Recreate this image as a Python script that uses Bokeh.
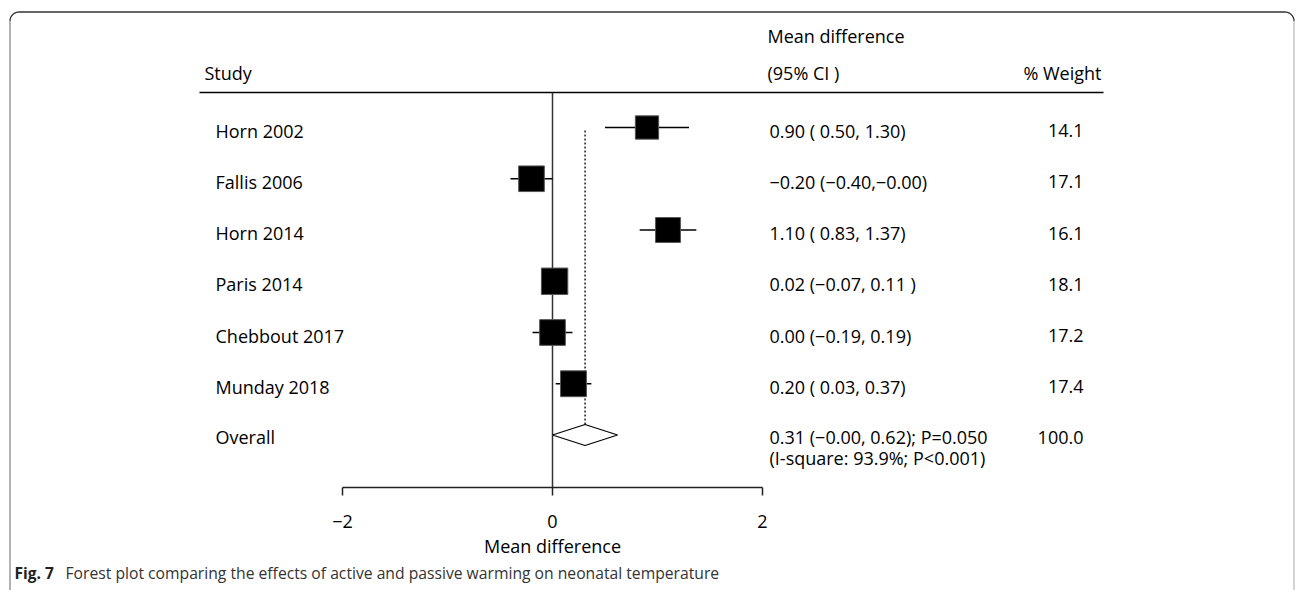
import numpy as np
from bokeh.plotting import figure
from bokeh.models import ColumnDataSource, Range1d, LinearAxis, FixedTicker
from bokeh.core.properties import value
from bokeh.embed import file_html
from bokeh.resources import INLINE

# ---------------- data ----------------
studies = ["Horn 2002", "Fallis 2006", "Horn 2014", "Paris 2014", "Chebbout 2017", "Munday 2018"]
est = [0.90, -0.20, 1.10, 0.02, 0.00, 0.20]
lo = [0.50, -0.40, 0.83, -0.07, -0.19, 0.03]
hi = [1.30, -0.00, 1.37, 0.11, 0.19, 0.37]
weights = [14.1, 17.1, 16.1, 18.1, 17.2, 17.4]
ci_text = ["0.90 ( 0.50, 1.30)", "\u22120.20 (\u22120.40,\u22120.00)", "1.10 ( 0.83, 1.37)",
           "0.02 (\u22120.07, 0.11 )", "0.00 (\u22120.19, 0.19)", "0.20 ( 0.03, 0.37)"]
weight_text = ["14.1", "17.1", "16.1", "18.1", "17.2", "17.4"]

overall_label = "Overall"
overall_est = 0.31
overall_lo = -0.00
overall_hi = 0.62
overall_text = "0.31 (\u22120.00, 0.62); P=0.050"
overall_het = "(I-square: 93.9%; P<0.001)"
overall_weight = "100.0"

axis_ticks = [-2, 0, 2]
axis_tick_labels = ["\u22122", "0", "2"]
axis_title = "Mean difference"
header_study = "Study"
header_md1 = "Mean difference"
header_md2 = "(95% CI )"
header_weight = "% Weight"
caption_bold = "Fig. 7"
caption_text = "Forest plot comparing the effects of active and passive warming on neonatal temperature"

# ---------------- layout ----------------
W, H = 1295, 590
X0PX, XSCALE = 552.0, 105.0          # pixel of x=0, pixels per unit
def X(px):
    return (px - X0PX) / XSCALE

ROW_TOP, ROW_STEP = 127.0, 51.25
n = len(studies)
row_y = [ROW_TOP + ROW_STEP * i for i in range(n)]
overall_y = ROW_TOP + ROW_STEP * n
AXIS_Y = 487.0
HEADER_LINE_Y = 92.0

FONT = value("Open Sans")
FS = "18px"

p = figure(width=W, height=H, output_backend="svg", toolbar_location=None,
           x_range=Range1d(X(0), X(W)), y_range=Range1d(H, 0),
           x_axis_type=None, y_axis_type=None, min_border=0,
           outline_line_color=None, background_fill_color="white",
           border_fill_color="white")
p.xgrid.visible = False
p.ygrid.visible = False

# border (rounded top corners)
r = 9.0
L, R, T = 9.5, 1293.5, 11.5
t = np.linspace(0, np.pi / 2, 12)
left_arc_x = L + r - r * np.cos(t)
left_arc_y = T + r - r * np.sin(t)
right_arc_x = R - r + r * np.sin(t)
right_arc_y = T + r - r * np.cos(t)
top_x = np.concatenate([left_arc_x, right_arc_x])
top_y = np.concatenate([left_arc_y, right_arc_y])
p.line([X(v) for v in top_x], list(top_y), line_color="#333333", line_width=1.3)
p.line([X(L), X(L)], [T + r, H + 5], line_color="#8a8a8a", line_width=1.3)
p.line([X(R), X(R)], [T + r, H + 5], line_color="#bbbbbb", line_width=1.3)

# header line
p.line([X(199), X(1103)], [HEADER_LINE_Y, HEADER_LINE_Y], line_color="black", line_width=1.5)

# null line
p.line([0, 0], [HEADER_LINE_Y, AXIS_Y], line_color="#333333", line_width=1.5)

# dotted overall line
p.line([overall_est, overall_est], [row_y[0] + 3, overall_y], line_color="black",
       line_width=1.3, line_dash="2 2")

src = ColumnDataSource(dict(study=studies, est=est, lo=lo, hi=hi, y=row_y,
                            ty=[v + 3 for v in row_y],
                            size=[6.2 * np.sqrt(w) for w in weights],
                            ci=ci_text, wt=weight_text))

p.segment(x0="lo", y0="y", x1="hi", y1="y", source=src, line_color="black", line_width=1.3)
p.scatter(x="est", y="y", size="size", marker="square", source=src,
          fill_color="black", line_color="#555555", line_width=1)

# overall diamond
dh = 10.5
p.patch([overall_lo, overall_est, overall_hi, overall_est],
        [overall_y, overall_y - dh, overall_y, overall_y + dh],
        fill_color="white", line_color="black", line_width=1.2)

# row texts
p.text(x=X(215), y="ty", text="study", source=src, text_font=FONT, text_font_size=FS,
       text_baseline="middle", text_align="left", text_color="black")
p.text(x=X(769), y="ty", text="ci", source=src, text_font=FONT, text_font_size=FS,
       text_baseline="middle", text_align="left", text_color="black")
p.text(x=X(1083), y="ty", text="wt", source=src, text_font=FONT, text_font_size=FS,
       text_baseline="middle", text_align="right", text_color="black")

p.text(x=[X(215)], y=[overall_y + 2], text=[overall_label], text_font=FONT, text_font_size=FS,
       text_baseline="middle", text_align="left", text_color="black")
p.text(x=[X(769), X(769)], y=[overall_y + 2, overall_y + 23], text=[overall_text, overall_het],
       text_font=FONT, text_font_size=FS, text_baseline="middle", text_align="left",
       text_color="black")
p.text(x=[X(1083)], y=[overall_y + 2], text=[overall_weight], text_font=FONT, text_font_size=FS,
       text_baseline="middle", text_align="right", text_color="black")

# headers
p.text(x=[X(204)], y=[72], text=[header_study], text_font=FONT, text_font_size=FS,
       text_baseline="middle", text_align="left", text_color="black")
p.text(x=[X(767), X(767)], y=[35, 72], text=[header_md1, header_md2], text_font=FONT,
       text_font_size=FS, text_baseline="middle", text_align="left", text_color="black")
p.text(x=[X(1101)], y=[72], text=[header_weight], text_font=FONT, text_font_size=FS,
       text_baseline="middle", text_align="right", text_color="black")

# caption
p.text(x=[X(14)], y=[572], text=[caption_bold], text_font=FONT, text_font_size="15.5px",
       text_font_style="bold", text_baseline="middle", text_align="left", text_color="#222222")
p.text(x=[X(65)], y=[572], text=[caption_text], text_font=FONT, text_font_size="15.7px",
       text_baseline="middle", text_align="left", text_color="#333333")

# x axis
ax = LinearAxis(fixed_location=AXIS_Y, bounds=(axis_ticks[0], axis_ticks[-1]),
                ticker=FixedTicker(ticks=axis_ticks),
                major_label_overrides={t_: l_ for t_, l_ in zip(axis_ticks, axis_tick_labels)},
                axis_label=axis_title)
ax.axis_line_color = "#222222"
ax.axis_line_width = 1.5
ax.major_tick_line_color = "#222222"
ax.major_tick_line_width = 1.5
ax.major_tick_out = 8
ax.major_tick_in = 0
ax.minor_tick_line_color = None
ax.major_label_standoff = 19
ax.major_label_text_font = "Open Sans"
ax.major_label_text_font_size = FS
ax.major_label_text_color = "black"
ax.axis_label_text_font = "Open Sans"
ax.axis_label_text_font_size = FS
ax.axis_label_text_font_style = "normal"
ax.axis_label_text_color = "black"
ax.axis_label_standoff = 3
p.add_layout(ax, "below")

open("out.html", "w").write(file_html(p, INLINE))
